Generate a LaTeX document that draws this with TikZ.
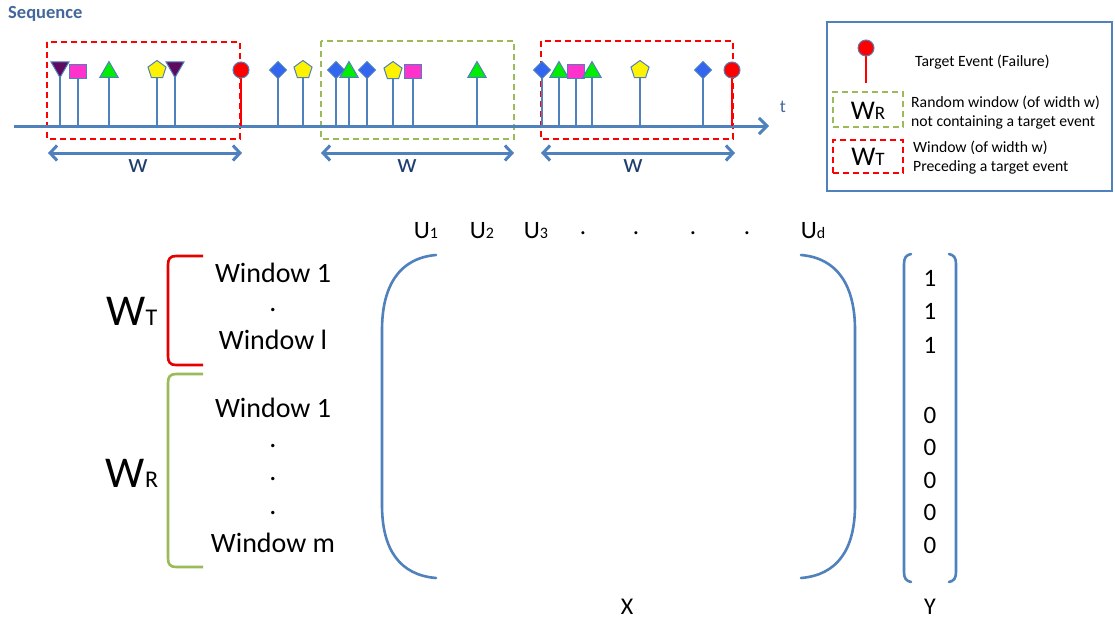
\documentclass[tikz,border=0pt]{standalone}
\usepackage{fontspec}
\setmainfont{Carlito}
\usetikzlibrary{shapes.geometric,arrows.meta}
\definecolor{ablue}{HTML}{4F81BD}
\definecolor{dblue}{HTML}{3366EE}
\definecolor{seqc}{HTML}{44679C}
\definecolor{wcol}{HTML}{1F3E6E}
\definecolor{tgreen}{HTML}{00EE00}
\definecolor{purp}{HTML}{5E0A5E}
\definecolor{mag}{HTML}{FF33CC}
\definecolor{ogreen}{HTML}{9BBB59}
\definecolor{bred}{HTML}{FF0000}
\tikzset{
 stem/.style={draw=ablue, line width=2.2pt},
 redstem/.style={draw=bred, line width=2.6pt},
 mk/.style={draw=ablue, line width=1pt, inner sep=0pt, outer sep=0pt},
 dia/.style={mk, diamond, fill=dblue, minimum width=17pt, minimum height=17pt},
 pent/.style={mk, regular polygon, regular polygon sides=5, fill=yellow, minimum size=19pt},
 tup/.style={mk, regular polygon, regular polygon sides=3, fill=tgreen, minimum size=21pt},
 tdown/.style={mk, regular polygon, regular polygon sides=3, shape border rotate=180, fill=purp, minimum size=21pt},
 sq/.style={mk, rectangle, fill=mag, minimum width=17pt, minimum height=14pt},
 tgt/.style={mk, circle, fill=bred, minimum size=16pt},
 axis/.style={draw=ablue, line width=3pt, -{Straight Barb[length=8pt,width=16pt]}},
 warrow/.style={draw=ablue, line width=3pt, {Straight Barb[length=7pt,width=15pt]}-{Straight Barb[length=7pt,width=15pt]}},
 rdash/.style={draw=bred, line width=2pt, dash pattern=on 6pt off 4pt},
 gdash/.style={draw=ogreen, line width=2pt, dash pattern=on 6pt off 4pt},
 wlab/.style={text=wcol, font=\fontsize{27}{29}\selectfont, inner sep=0pt},
 ltxt/.style={anchor=west, font=\fontsize{15.7}{18}\selectfont, inner sep=0pt},
 wintxt/.style={font=\fontsize{28}{30}\selectfont, inner sep=0pt},
 ulab/.style={font=\fontsize{25}{28}\selectfont, inner sep=0pt},
 ytxt/.style={font=\fontsize{25}{27}\selectfont, inner sep=0pt},
 paren/.style={draw=ablue, line width=2.6pt, line cap=round},
 rbrack/.style={draw=bred!90!black, line width=2.6pt},
 gbrack/.style={draw=ogreen, line width=2.6pt},
}
\newcommand\evt[5]{%
 \coordinate (#1b) at (#2,126);
 \coordinate (#1c) at (#2,#3);
 \draw[#5] (#1b) -- (#1c);
 \node[#4] (#1) at (#2,#3) {};
}
\begin{document}
\begin{tikzpicture}[x=1pt,y=-1pt]
\useasboundingbox[fill=white] (0,0) rectangle (1115,621);
% title
\node[anchor=west, text=seqc, font=\bfseries\fontsize{18.5}{20}\selectfont, inner sep=0pt] (seq) at (8,14) {Sequence};
% windows
\draw[rdash] (47,42) rectangle (240,139);
\draw[gdash] (321,41) rectangle (514,139);
\draw[rdash] (541,41) rectangle (733,139);
% axis
\coordinate (ax0) at (14,126);
\coordinate (ax1) at (769,126);
\draw[axis] (ax0) -- (ax1);
\node[text=seqc, font=\fontsize{18}{20}\selectfont] (t) at (783,107) {t};
% events segment 1
\evt{e1}{60}{67}{tdown}{stem}
\evt{e2}{78}{71}{sq}{stem}
\evt{e3}{109}{72}{tup}{stem}
\evt{e4}{157}{70}{pent}{stem}
\evt{e5}{175}{67}{tdown}{stem}
\evt{e6}{241}{70}{tgt}{redstem}
% segment 2
\evt{e7}{278}{70}{dia}{stem}
\evt{e8}{303}{70}{pent}{stem}
\evt{e9}{336}{70}{dia}{stem}
\evt{e10}{349}{72}{tup}{stem}
\evt{e11}{367}{70}{dia}{stem}
\evt{e12}{393}{71}{pent}{stem}
\evt{e13}{413}{71}{sq}{stem}
\evt{e14}{477}{72}{tup}{stem}
% segment 3
\evt{e15}{542}{70}{dia}{stem}
\evt{e16}{559}{72}{tup}{stem}
\evt{e17}{576}{71}{sq}{stem}
\evt{e18}{592}{72}{tup}{stem}
\evt{e19}{640}{70}{pent}{stem}
\evt{e20}{703}{70}{dia}{stem}
\evt{e21}{732}{70}{tgt}{redstem}
% width arrows
\coordinate (w1a) at (48,153); \coordinate (w1b) at (242,153);
\coordinate (w2a) at (321,153); \coordinate (w2b) at (514,153);
\coordinate (w3a) at (541,153); \coordinate (w3b) at (735,153);
\draw[warrow] (w1a) -- (w1b);
\draw[warrow] (w2a) -- (w2b);
\draw[warrow] (w3a) -- (w3b);
\node[wlab] (wl1) at (138,166) {w};
\node[wlab] (wl2) at (407,166) {w};
\node[wlab] (wl3) at (633,166) {w};
% legend
\node[draw=ablue, line width=2.5pt, minimum width=285pt, minimum height=169pt, inner sep=0pt] (leg) at (969.5,106.5) {};
\coordinate (lgb) at (866,83);
\coordinate (lgc) at (866,48);
\draw[redstem] (lgb) -- (lgc);
\node[tgt] (lgt) at (866,48) {};
\node[ltxt] (lt1) at (915,62) {Target Event (Failure)};
\node[gdash, minimum width=70pt, minimum height=35pt, inner sep=0pt] (lgr) at (868,109.5) {};
\node[inner sep=0pt] (lgrt) at (868,111) {\fontsize{27}{29}\selectfont W\fontsize{19}{21}\selectfont R};
\node[ltxt] (lt2) at (911,103) {Random window (of width w)};
\node[ltxt] (lt3) at (911,122) {not containing a target event};
\node[rdash, minimum width=70pt, minimum height=33pt, inner sep=0pt] (lgw) at (868,156.5) {};
\node[inner sep=0pt] (lgwt) at (868,157) {\fontsize{27}{29}\selectfont W\fontsize{19}{21}\selectfont T};
\node[ltxt] (lt4) at (913,148) {Window (of width w)};
\node[ltxt] (lt5) at (913,167) {Preceding a target event};
% left labels
\node[inner sep=0pt] (WT) at (132,311) {\fontsize{44}{48}\selectfont W\fontsize{24}{26}\selectfont T};
\node[inner sep=0pt] (WR) at (132,473) {\fontsize{44}{48}\selectfont W\fontsize{24}{26}\selectfont R};
\draw[rbrack] (203,256) -- (176,256) .. controls (170,256) and (168,259) .. (168,265) -- (168,356) .. controls (168,362) and (170,365) .. (176,365) -- (203,365);
\draw[gbrack] (203,374) -- (176,374) .. controls (170,374) and (168,377) .. (168,383) -- (168,558) .. controls (168,564) and (170,567) .. (176,567) -- (203,567);
\node[wintxt] (r1) at (273,273) {Window 1};
\node[wintxt] (r2) at (273,310) {.};
\node[wintxt] (r3) at (273,340) {Window l};
\node[wintxt] (r4) at (273,408) {Window 1};
\node[wintxt] (r5) at (273,446) {.};
\node[wintxt] (r6) at (273,479) {.};
\node[wintxt] (r7) at (273,513) {.};
\node[wintxt] (r8) at (273,543) {Window m};
% column labels
\node[ulab] (u1) at (426,231) {U\fontsize{16}{18}\selectfont 1};
\node[ulab] (u2) at (482,231) {U\fontsize{16}{18}\selectfont 2};
\node[ulab] (u3) at (536,231) {U\fontsize{16}{18}\selectfont 3};
\node[ulab] (ud1) at (583,233) {.};
\node[ulab] (ud2) at (636,233) {.};
\node[ulab] (ud3) at (693,233) {.};
\node[ulab] (ud4) at (747,233) {.};
\node[ulab] (ud) at (813,231) {U\fontsize{16}{18}\selectfont d};
% matrix parentheses
\draw[paren] (436,255) .. controls (400,258) and (382,285) .. (382,330) -- (382,505) .. controls (382,550) and (400,575) .. (436,578);
\draw[paren] (801,255) .. controls (837,258) and (855,285) .. (855,330) -- (855,505) .. controls (855,550) and (837,575) .. (801,578);
\node[font=\fontsize{24}{26}\selectfont] (X) at (627,607) {X};
% Y vector
\draw[paren] (911,254) .. controls (906,255) and (904,258) .. (904,264) -- (904,572) .. controls (904,578) and (906,581) .. (911,582);
\draw[paren] (949,254) .. controls (954,255) and (956,258) .. (956,264) -- (956,572) .. controls (956,578) and (954,581) .. (949,582);
\node[ytxt] (y1) at (930,278) {1};
\node[ytxt] (y2) at (930,311) {1};
\node[ytxt] (y3) at (930,345) {1};
\node[ytxt] (y4) at (930,415) {0};
\node[ytxt] (y5) at (930,447) {0};
\node[ytxt] (y6) at (930,480) {0};
\node[ytxt] (y7) at (930,512) {0};
\node[ytxt] (y8) at (930,545) {0};
\node[font=\fontsize{24}{26}\selectfont] (Y) at (930,607) {Y};
\end{tikzpicture}
\end{document}
